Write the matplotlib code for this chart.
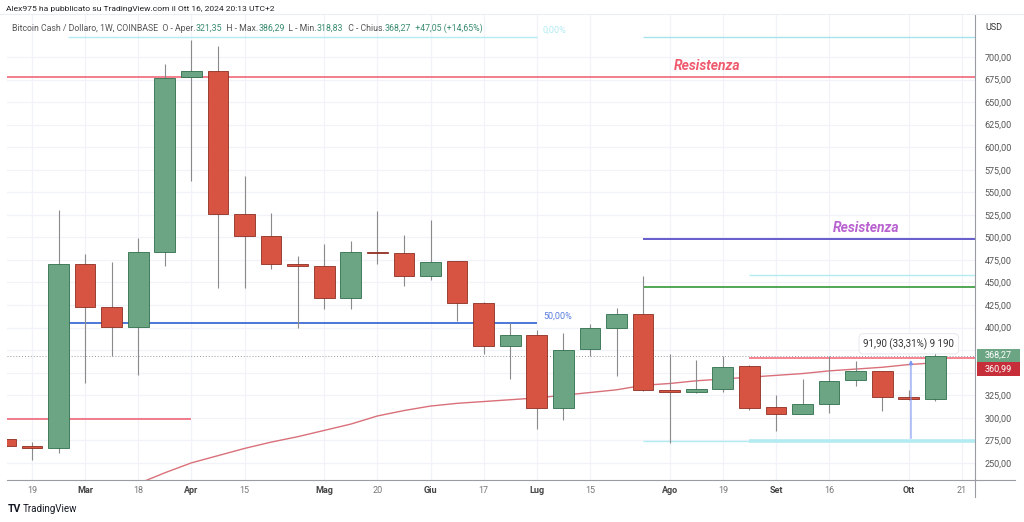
import matplotlib.pyplot as plt
from matplotlib.lines import Line2D
from matplotlib.patches import Rectangle

plt.rcParams['font.family'] = ['Roboto', 'DejaVu Sans']

# weekly candles, Feb 12 2024 (week 0) .. Oct 14 2024 (week 35)
opens = [277, 269, 267, 470, 423, 401, 484, 678, 684, 526, 501, 470,
         468, 433, 484, 483, 457, 474, 427, 380, 392, 311, 376, 400,
         415, 331, 329, 332, 357, 312, 304, 315, 342, 352, 323.5, 321.35]
highs = [279, 273, 530, 482, 473, 499, 692, 719, 712, 568, 527, 479,
         493, 496, 529, 503, 519, 474, 428, 405, 397, 394, 404, 422,
         457, 371, 364, 369, 358, 325, 343, 368, 363, 352, 331, 386.29]
lows = [268, 253, 261, 339, 368, 347, 468, 562, 444, 444, 465, 399,
        421, 421, 471, 446, 453, 407, 371, 343, 287, 298, 369, 346,
        330, 272, 327, 329, 309, 285, 304, 305, 335, 307, 320, 318.83]
closes = [269, 267, 470, 423, 401, 484, 677, 684, 526, 501, 470, 468,
          433, 484, 483, 457, 473, 427, 380, 392, 311, 375, 400, 415,
          331, 329, 332, 356, 311, 304, 315, 341, 352, 323, 321.22, 368.27]

# moving average (from week 5 onwards)
ma_start = 5
ma_values = [227, 239, 250, 258, 266, 273, 279, 286, 293, 302, 308, 313,
             316, 318, 320, 322, 325, 328, 331, 336, 338, 341, 343, 345,
             347, 349, 352, 354, 356, 359, 361]
ma_last = 360.99

tick_pos = [1, 3, 5, 7, 9, 12, 14, 16, 18, 20, 22, 25, 27, 29, 31, 34, 36]
tick_labels = ["19", "Mar", "18", "Apr", "15", "Mag", "20", "Giu", "17",
               "Lug", "15", "Ago", "19", "Set", "16", "Ott", "21"]
month_labels = {"Mar", "Apr", "Mag", "Giu", "Lug", "Ago", "Set", "Ott"}

price_ticks = list(range(250, 701, 25))
hidden_ticks = {350, 375}   # covered by the price tags

UP, DOWN = "#6ba583", "#d75442"
UP_EDGE, DOWN_EDGE = "#2f6e4c", "#8e2e22"
WICK = "#8a8a8c"

fig = plt.figure(figsize=(10.24, 5.22), dpi=100)
ax = fig.add_axes([7 / 1024, 42 / 522, 968 / 1024, 466 / 522])
ax.set_xlim(0.06, 36.49)
ax.set_ylim(231.0, 747.7)

# grid
for p in price_ticks:
    ax.axhline(p, color="#f0f3fa", lw=0.9, zorder=0)
for t in tick_pos:
    ax.axvline(t, color="#f0f3fa", lw=0.9, zorder=0)

# moving average
ax.plot(range(ma_start, ma_start + len(ma_values)), ma_values,
        color="#d9707a", lw=1.0, zorder=2)

# current price dotted line
ax.axhline(closes[-1], color="#9598a1", lw=0.7, ls=(0, (1, 2)), zorder=1)

# drawings
xr = 36.49
ax.hlines(677.5, 0.06, xr, color="#f05a6e", lw=1.1, zorder=1)
ax.hlines(298.7, 0.06, 7.0, color="#f05a6e", lw=1.1, zorder=1)
ax.hlines(405, 2.35, 20.0, color="#2f5fd0", lw=1.2, zorder=1)
ax.hlines(722, 2.35, 20.0, color="#b2ebf2", lw=1.0, zorder=1)
ax.hlines(722, 24.0, xr, color="#a6e3ec", lw=1.0, zorder=1)
ax.hlines(498.2, 24.0, xr, color="#5b4fc7", lw=1.3, zorder=1)
ax.hlines(445, 24.0, xr, color="#43a047", lw=1.3, zorder=1)
ax.hlines(458.3, 28.0, xr, color="#b2ebf2", lw=1.0, zorder=1)
ax.hlines(274.4, 24.0, 28.0, color="#b2ebf2", lw=1.0, zorder=1)
ax.hlines(274.0, 28.0, xr, color="#b2ebf2", lw=2.6, zorder=1)
ax.hlines(366, 28.0, xr, color="#f7707e", lw=1.2, zorder=1)

# candles
for i, (o, h, l, c) in enumerate(zip(opens, highs, lows, closes)):
    up = c >= o
    ax.vlines(i, l, h, color=WICK, lw=0.8, zorder=3)
    bottom = min(o, c)
    height = max(abs(c - o), 1.2)
    ax.bar(i, height, bottom=bottom, width=0.78,
           color=UP if up else DOWN, edgecolor=UP_EDGE if up else DOWN_EDGE,
           lw=0.6, zorder=4)

# labels on drawings
ax.text(26.4, 690, "Resistenza", color="#f05a6e", fontsize=10,
        fontweight="bold", style="italic", ha="center", va="center")
ax.text(32.4, 510.5, "Resistenza", color="#b862d0", fontsize=10,
        fontweight="bold", style="italic", ha="center", va="center")
ax.text(20.23, 413, "50,00%", color="#5b7fe0", fontsize=6.5,
        ha="left", va="center")
ax.text(20.23, 730, "0,00%", color="#b2ebf2", fontsize=6.5,
        ha="left", va="center")

# measure tool
ax.annotate("", xy=(34.08, 367), xytext=(34.08, 274),
            arrowprops=dict(arrowstyle="-|>", color="#7b96f0", lw=0.8,
                            mutation_scale=6), zorder=5)
ax.text(34.0, 382, "91,90 (33,31%) 9 190", fontsize=7, color="#333333",
        ha="center", va="center", zorder=6,
        bbox=dict(boxstyle="round,pad=0.45", fc="white", ec="#e3e5ea", lw=0.6))

# axis styling
for s in ["top", "left"]:
    ax.spines[s].set_visible(False)
ax.spines["right"].set_color("#9a9ca3")
ax.spines["bottom"].set_color("#9a9ca3")
ax.yaxis.tick_right()
ax.set_yticks(price_ticks)
ax.set_yticklabels(["" if p in hidden_ticks else f"{p:.2f}".replace(".", ",")
                    for p in price_ticks])
ax.tick_params(axis="y", length=0, pad=7, labelsize=6.5, labelcolor="#555555")
ax.set_xticks(tick_pos)
ax.set_xticklabels(tick_labels)
ax.tick_params(axis="x", length=0, pad=4, labelsize=6.5, labelcolor="#777777")
for lab in ax.get_xticklabels():
    if lab.get_text() in month_labels:
        lab.set_fontweight("bold")
        lab.set_color("#444444")

# price tags on the right axis (boxes drawn as patches, text on top)
yt = ax.get_yaxis_transform()
tags = [(closes[-1], 361.9, 376.3, "#6ba583"), (ma_last, 346.4, 361.9, "#c62f3a")]
for value, y0, y1, col in tags:
    ax.add_patch(Rectangle((1.002, y0), 0.0445, y1 - y0, transform=yt,
                           fc=col, ec="none", clip_on=False, zorder=6))
    ax.text(1.0243, (y0 + y1) / 2, f"{value:.2f}".replace(".", ","),
            transform=yt, fontsize=6.5, color="white", ha="center",
            va="center", clip_on=False, zorder=7)

# frame extensions
fig.add_artist(Line2D([975 / 1024, 975 / 1024], [25 / 522, 42 / 522],
                      color="#9a9ca3", lw=0.8))
fig.add_artist(Line2D([975 / 1024, 1015 / 1024], [42 / 522, 42 / 522],
                      color="#9a9ca3", lw=0.8))
fig.add_artist(Line2D([0, 1], [508 / 522, 508 / 522], color="#eceef2", lw=0.8))

fig.text(985 / 1024, 1 - 28 / 522, "USD", fontsize=6.5, color="#333333",
         va="center")

# header lines
fig.text(6 / 1024, 1 - 9 / 522,
         "Alex975 ha pubblicato su TradingView.com il Ott 16, 2024 20:13 UTC+2",
         fontsize=6.1, color="#222222", va="center")

parts = [("Bitcoin Cash / Dollaro, 1W, COINBASE  O - Aper.", "#555555"),
         ("321,35", "#3a8d6e"), ("  H - Max.", "#555555"), ("386,29", "#3a8d6e"),
         ("  L - Min.", "#555555"), ("318,83", "#3a8d6e"),
         ("  C - Chius.", "#555555"), ("368,27", "#3a8d6e"),
         ("  +47,05 (+14,65%)", "#3a8d6e")]
anchor = fig.text(12 / 1024, 1 - 33 / 522, parts[0][0], fontsize=6.3,
                  color=parts[0][1], va="bottom")
for txt, col in parts[1:]:
    anchor = ax.annotate(txt, xy=(1, 0), xycoords=anchor, fontsize=6.3,
                         color=col, va="bottom", ha="left",
                         annotation_clip=False)

# footer
fig.text(8 / 1024, 1 - 509 / 522, "TV", fontsize=7.5, fontweight="bold",
         color="#131722", va="center")
fig.text(23 / 1024, 1 - 509 / 522, "TradingView", fontsize=7, color="#131722",
         va="center")

fig.savefig("out.png", dpi=100)
